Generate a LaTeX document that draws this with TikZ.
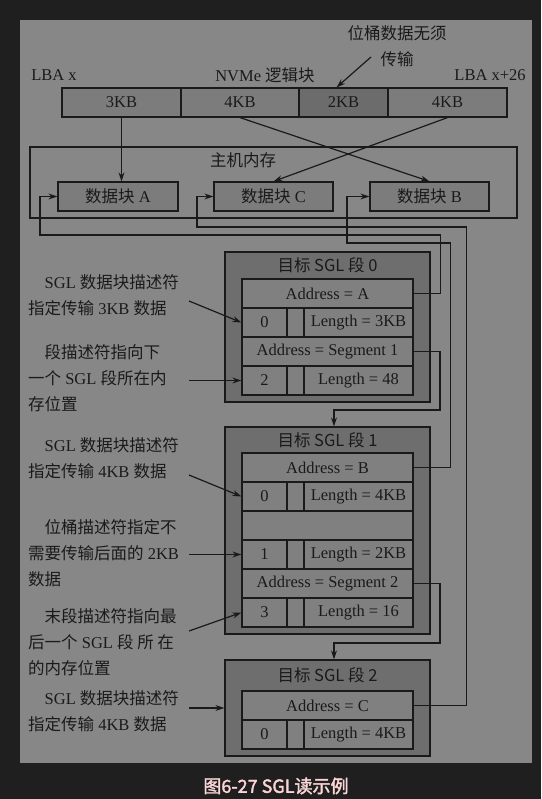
\documentclass[tikz,border=0pt]{standalone}
\usepackage{fontspec}
\setmainfont{Liberation Serif}
\newfontfamily\zhfont[AutoFakeBold=2]{Noto Sans CJK SC}
\newcommand{\zh}[1]{{\zhfont #1}}
\usepackage{tikz}
\usetikzlibrary{arrows.meta}
\usepackage{xcolor}
\definecolor{ColBack}{RGB}{31,31,31}
\definecolor{ColPanel}{RGB}{135,135,135}
\definecolor{ColCell}{RGB}{124,124,124}
\definecolor{ColSkip}{RGB}{108,108,108}
\definecolor{ColSeg}{RGB}{110,110,110}
\definecolor{ColRow}{RGB}{128,128,128}
\definecolor{ColLine}{RGB}{26,26,26}
\definecolor{ColCap}{RGB}{252,214,214}
\tikzstyle{TextSize}=[font=\fontsize{16.5}{26}\selectfont,text=ColLine]
\tikzstyle{Block}=[rectangle,draw=ColLine,fill=ColCell,line width=1.2pt,inner sep=0pt,
minimum height=29pt,TextSize]
\tikzstyle{SegBox}=[rectangle,draw=ColLine,fill=ColSeg,line width=1.2pt,minimum width=205pt]
\tikzstyle{SegTitle}=[TextSize,font=\zhfont\fontsize{16.5}{20}\selectfont]
\tikzstyle{Row}=[Block,fill=ColRow,minimum width=171pt]
\tikzstyle{NumCell}=[Block,fill=ColRow,minimum width=45pt]
\tikzstyle{GapCell}=[Block,fill=ColRow,minimum width=17pt]
\tikzstyle{LenCell}=[Block,fill=ColRow,minimum width=109pt]
\tikzstyle{Note}=[TextSize,align=left,anchor=north west,inner sep=0pt]
\tikzstyle{Arrow}=[draw=ColLine,line width=1.2pt,-{Stealth[length=9pt,width=6pt]}]

\begin{document}
\begin{tikzpicture}[x=1pt,y=-1pt]
        \useasboundingbox(0,0)rectangle(541,799);
        \fill[ColBack](0,0)rectangle(541,799);
        \fill[ColPanel](20,20)rectangle(532,763);
        % logical blocks
        \node[TextSize](lbaS)at(54,75){LBA x};
        \node[TextSize](nvme)at(265,75){NVMe \zh{逻辑块}};
        \node[TextSize](lbaE)at(490,75){LBA x+26};
        \node[TextSize,align=center](skip)at(397,46){\zh{位桶数据无须}\\\zh{传输}};
        \node[Block,minimum width=119pt](k1)at(121.5,102.5){3KB};
        \node[Block,minimum width=118pt](k2)at(240,102.5){4KB};
        \node[Block,fill=ColSkip,minimum width=89pt](k3)at(343.5,102.5){2KB};
        \node[Block,minimum width=119pt](k4)at(447.5,102.5){4KB};
        \coordinate(skipT)at(371,57);
        \draw[Arrow](skipT)--([xshift=-7pt]k3.north);
        % host memory
        \node[draw=ColLine,line width=1.2pt,minimum width=487pt,minimum height=71pt](host)at(273.5,182.5){};
        \node[TextSize](hostT)at(243,160){\zh{主机内存}};
        \node[Block,minimum width=120pt](dA)at(118,196.5){\zh{数据块} A};
        \node[Block,minimum width=119pt](dC)at(273.5,196.5){\zh{数据块} C};
        \node[Block,minimum width=119pt](dB)at(429.5,196.5){\zh{数据块} B};
        \draw[Arrow](k1.south)--(k1.south|-dA.north);
        \draw[Arrow](k2.south)--(dB.north);
        \draw[Arrow](k4.south)--(dC.north);
        % segment 0
        \node[SegBox,minimum height=150pt](s0)at(327.5,327){};
        \node[SegTitle](s0t)at(327.5,265.5){目标 SGL 段 0};
        \node[Row](s0a)at(327.5,293.5){Address = A};
        \node[NumCell](s0n0)at(264.5,322.5){0};
        \node[GapCell](s0g0)at(295.5,322.5){};
        \node[LenCell](s0l0)at(358.5,322.5){Length = 3KB};
        \node[Row](s0b)at(327.5,351.5){Address = Segment 1};
        \node[NumCell](s0n2)at(264.5,380.5){2};
        \node[GapCell](s0g2)at(295.5,380.5){};
        \node[LenCell](s0l2)at(358.5,380.5){Length = 48};
        % segment 1
        \node[SegBox,minimum height=207pt](s1)at(327.5,530.5){};
        \node[SegTitle](s1t)at(327.5,440){目标 SGL 段 1};
        \node[Row](s1a)at(327.5,467.5){Address = B};
        \node[NumCell](s1n0)at(264.5,496.5){0};
        \node[GapCell](s1g0)at(295.5,496.5){};
        \node[LenCell](s1l0)at(358.5,496.5){Length = 4KB};
        \node[Row](s1e)at(327.5,525.5){};
        \node[NumCell](s1n1)at(264.5,554.5){1};
        \node[GapCell](s1g1)at(295.5,554.5){};
        \node[LenCell](s1l1)at(358.5,554.5){Length = 2KB};
        \node[Row](s1b)at(327.5,583.5){Address = Segment 2};
        \node[NumCell](s1n3)at(264.5,612.5){3};
        \node[GapCell](s1g3)at(295.5,612.5){};
        \node[LenCell](s1l3)at(358.5,612.5){Length = 16};
        % segment 2
        \node[SegBox,minimum height=96pt](s2)at(327.5,708){};
        \node[SegTitle](s2t)at(327.5,675.5){目标 SGL 段 2};
        \node[Row](s2a)at(327.5,705.5){Address = C};
        \node[NumCell](s2n0)at(264.5,734.5){0};
        \node[GapCell](s2g0)at(295.5,734.5){};
        \node[LenCell](s2l0)at(358.5,734.5){Length = 4KB};
        % pointers
        \draw[Arrow](s0a.east)--++(27,0)|-(40,235)|-(dA.west);
        \draw[Arrow](s1a.east)--++(37,0)|-(347,243)|-(dB.west);
        \draw[Arrow](s2a.east)--++(53,0)|-(197,227)|-(dC.west);
        \draw[Arrow](s0b.east)-|(440,410)-|([xshift=6.5pt]s1.north);
        \draw[Arrow](s1b.east)-|(440,643)-|([xshift=6.5pt]s2.north);
        % notes
        \node[Note](m1)at(28,274){\hspace*{1em}SGL \zh{数据块描述符}\\\zh{指定传输} 3KB \zh{数据}};
        \node[Note](m2)at(28,344){\hspace*{1em}\zh{段描述符指向下}\\\zh{一个} SGL \zh{段所在内}\\\zh{存位置}};
        \node[Note](m3)at(28,437){\hspace*{1em}SGL \zh{数据块描述符}\\\zh{指定传输} 4KB \zh{数据}};
        \node[Note](m4)at(28,519){\hspace*{1em}\zh{位桶描述符指定不}\\\zh{需要传输后面的} 2KB\\\zh{数据}};
        \node[Note](m5)at(28,608){\hspace*{1em}\zh{末段描述符指向最}\\\zh{后一个} SGL \zh{段 所 在}\\\zh{的内存位置}};
        \node[Note](m6)at(28,690){\hspace*{1em}SGL \zh{数据块描述符}\\\zh{指定传输} 4KB \zh{数据}};
        \coordinate(n1)at(189,301);
        \coordinate(n2)at(189,380.5);
        \coordinate(n3)at(189,475);
        \coordinate(n4)at(189,554.5);
        \coordinate(n5)at(189,631);
        \coordinate(n6)at(189,708);
        \draw[Arrow](n1)--(s0n0.west);
        \draw[Arrow](n2)--(s0n2.west);
        \draw[Arrow](n3)--(s1n0.west);
        \draw[Arrow](n4)--(s1n1.west);
        \draw[Arrow](n5)--(s1n3.west);
        \draw[Arrow](n6)--(s2.west);
        % caption
        \node[font=\zhfont\bfseries\fontsize{18}{20}\selectfont,text=ColCap](cap)at(276,786){图6-27 SGL读示例};
    \end{tikzpicture}
\end{document}
